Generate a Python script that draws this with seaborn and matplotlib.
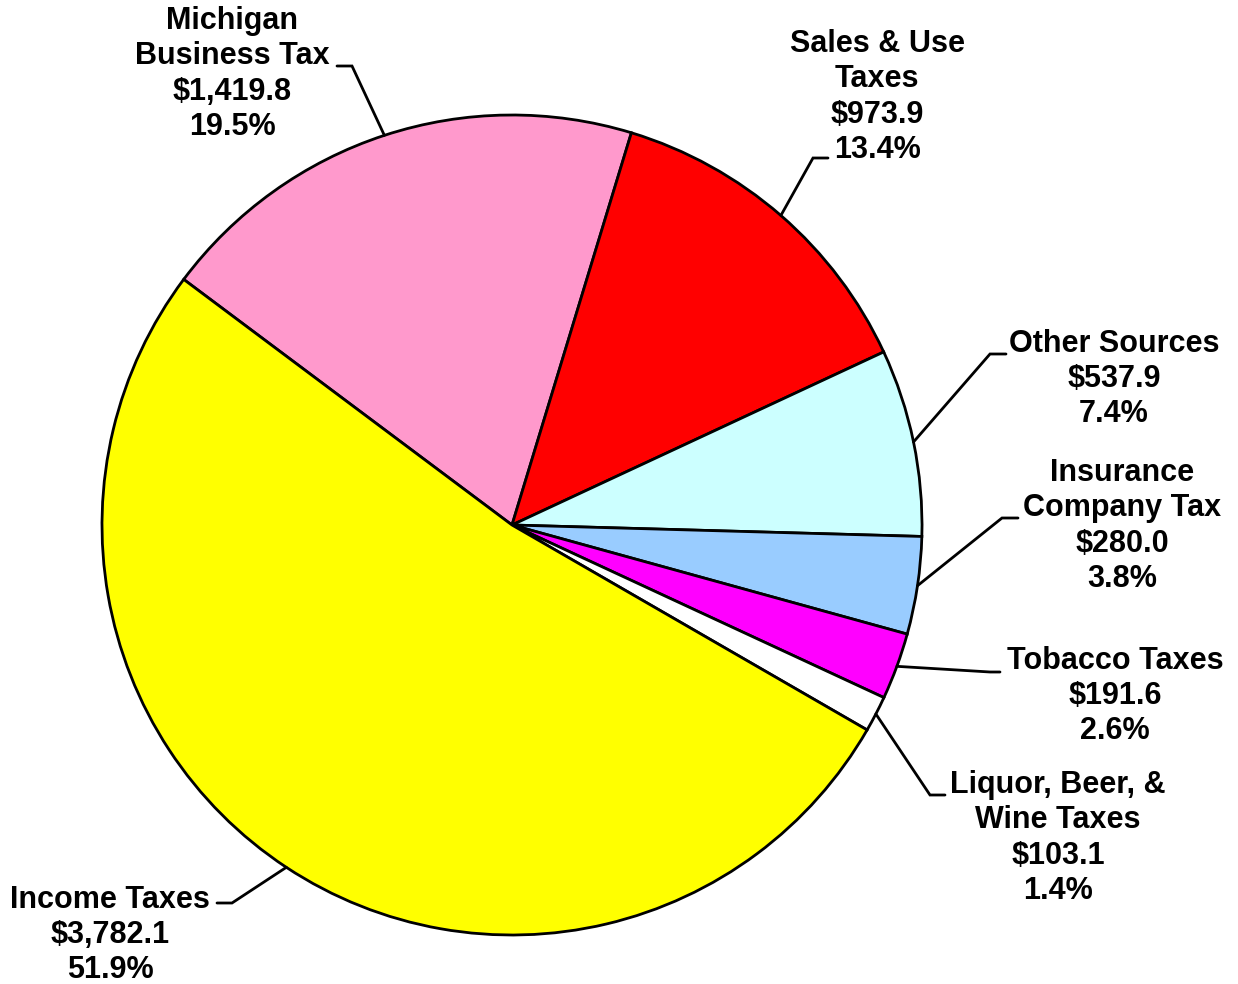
import numpy as np
import matplotlib
matplotlib.use("Agg")
import matplotlib.pyplot as plt
import seaborn as sns

# revenue sources (millions)
names = ["Michigan\nBusiness Tax", "Sales & Use\nTaxes", "Other Sources",
         "Insurance\nCompany Tax", "Tobacco Taxes", "Liquor, Beer, &\nWine Taxes",
         "Income Taxes"]
amounts = [1419.8, 973.9, 537.9, 280.0, 191.6, 103.1, 3782.1]
pcts = [19.5, 13.4, 7.4, 3.8, 2.6, 1.4, 51.9]
colors = ["#FF99CC", "#FF0000", "#CCFFFF", "#99CCFF", "#FF00FF", "#FFFFFF", "#FFFF00"]

sns.set_style("white")
plt.rcParams['font.family'] = ['Liberation Sans', 'DejaVu Sans']

W, H = 1238, 984
CX, CY, R = 512, 525, 410


def to_data(px, py):
    return (px - CX) / R, (CY - py) / R


# label layout in pixels: text center, elbow, end of horizontal stub
layout = [
    ((232, 74), (352, 66), (337, 66)),
    ((877, 97), (813, 158), (828, 158)),
    ((1114, 379), (990, 354), (1006, 354)),
    ((1122, 526), (1002, 518), (1018, 518)),
    ((1115, 696), (990, 672), (1000, 672)),
    ((1058, 838), (930, 795), (945, 795)),
    ((110, 935), (232, 903), (217, 903)),
]

fig = plt.figure(figsize=(W / 100, H / 100), dpi=100)
ax = fig.add_axes([0, 0, 1, 1])
wedges, _ = ax.pie(amounts, colors=colors, startangle=143.2, counterclock=False,
                   radius=1, wedgeprops=dict(edgecolor="black", linewidth=2.0))

for w, name, amt, pct, (tpos, elbow, stub) in zip(wedges, names, amounts, pcts, layout):
    mid = np.deg2rad((w.theta1 + w.theta2) / 2)
    ex, ey = np.cos(mid), np.sin(mid)
    bx, by = to_data(*elbow)
    sx, sy = to_data(*stub)
    ax.plot([ex, bx, sx], [ey, by, sy], color="black", lw=2.0,
            solid_joinstyle="miter", zorder=3)
    tx, ty = to_data(*tpos)
    ax.text(tx, ty, f"{name}\n${amt:,.1f}\n{pct:.1f}%", ha="center", va="center",
            multialignment="center", fontsize=22, fontweight="bold",
            linespacing=1.225, color="black")

ax.set_xlim(-CX / R, (W - CX) / R)
ax.set_ylim((CY - H) / R, CY / R)
ax.set_aspect("equal")
ax.axis("off")

fig.savefig("out.png", dpi=100, facecolor="white")
